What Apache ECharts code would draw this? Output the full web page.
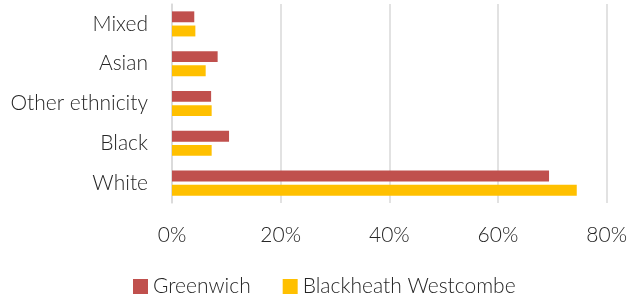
<!DOCTYPE html>
<html>
<head>
<meta charset="utf-8">
<script src="https://cdn.jsdelivr.net/npm/echarts@6/dist/echarts.min.js"></script>
<style>
  html, body { margin: 0; padding: 0; background: #fff; }
  #chart { width: 630px; height: 305px; }
</style>
</head>
<body>
<div id="chart"></div>
<script>
// ethnic groups, top to bottom
const categories = ['Mixed', 'Asian', 'Other ethnicity', 'Black', 'White']
const greenwich = [4.1, 8.4, 7.2, 10.5, 69.4]
const blackheath = [4.3, 6.2, 7.3, 7.3, 74.5]
const xTicks = [0, 20, 40, 60, 80]

const textColor = '#262626'
const font = 'Lato'

const chart = echarts.init(document.getElementById('chart'))
chart.setOption({
  animation: false,
  textStyle: { fontFamily: font },
  grid: { left: 172, right: 22, top: 4, bottom: 102 },
  legend: {
    bottom: 3,
    left: 128,
    itemWidth: 15,
    itemHeight: 15,
    itemGap: 32,
    icon: 'rect',
    textStyle: { fontSize: 21, color: textColor, fontFamily: font, fontWeight: 300 },
    data: ['Greenwich', 'Blackheath Westcombe']
  },
  xAxis: {
    type: 'value',
    min: xTicks[0],
    max: xTicks[xTicks.length - 1],
    interval: 20,
    axisLine: { show: false },
    axisTick: { show: false },
    splitLine: { lineStyle: { color: '#d9d9d9', width: 1.5 } },
    axisLabel: {
      formatter: '{value}%',
      fontSize: 21,
      fontWeight: 300,
      color: textColor,
      margin: 22
    }
  },
  yAxis: {
    type: 'category',
    inverse: true,
    data: categories,
    axisLine: { show: true, lineStyle: { color: '#d9d9d9', width: 1.5 } },
    axisTick: { show: false },
    axisLabel: { fontSize: 21, fontWeight: 300, color: textColor, margin: 24 }
  },
  series: [
    {
      name: 'Greenwich',
      type: 'bar',
      data: greenwich,
      itemStyle: { color: '#C0504D' },
      barGap: '30%',
      barCategoryGap: '37%'
    },
    {
      name: 'Blackheath Westcombe',
      type: 'bar',
      data: blackheath,
      itemStyle: { color: '#FFC000' }
    }
  ]
})
</script>
</body>
</html>
